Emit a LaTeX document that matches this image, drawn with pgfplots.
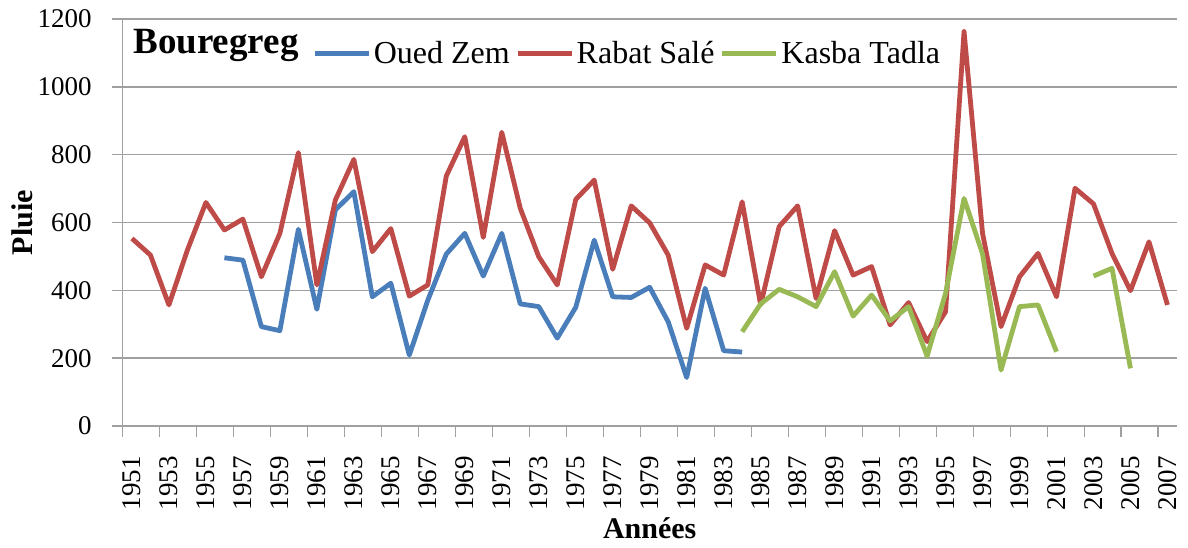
\documentclass[border=0pt]{standalone}
\usepackage{fontspec}
\setmainfont{Liberation Serif}
\usepackage{pgfplots}
\pgfplotsset{compat=1.18}
\usepackage{pgfplotstable}
\usetikzlibrary{calc}

\definecolor{cblue}{HTML}{4A7EBB}
\definecolor{cred}{HTML}{BE4B48}
\definecolor{cgreen}{HTML}{98B954}
\definecolor{gridc}{HTML}{A0A0A0}

\pgfplotstableread{
year val
1956 496
1957 489
1958 293
1959 281
1960 580
1961 344
1962 637
1963 691
1964 381
1965 421
1966 209
1967 371
1968 507
1969 568
1970 442
1971 568
1972 360
1973 352
1974 259
1975 350
1976 548
1977 381
1978 379
1979 409
1980 307
1981 143
1982 406
1983 222
1984 218
}\ouedzem

\pgfplotstableread{
year val
1951 553
1952 504
1953 357
1954 519
1955 659
1956 578
1957 610
1958 440
1959 568
1960 806
1961 416
1962 666
1963 786
1964 514
1965 582
1966 383
1967 416
1968 737
1969 853
1970 556
1971 866
1972 642
1973 499
1974 416
1975 668
1976 725
1977 462
1978 649
1979 599
1980 504
1981 288
1982 475
1983 445
1984 661
1985 357
1986 588
1987 649
1988 376
1989 576
1990 445
1991 470
1992 298
1993 364
1994 249
1995 337
1996 1163
1997 568
1998 293
1999 440
2000 509
2001 381
2002 701
2003 655
2004 509
2005 399
2006 543
2007 357
}\rabat

\pgfplotstableread{
year val
1984 278
1985 360
1986 403
1987 381
1988 352
1989 455
1990 324
1991 386
1992 310
1993 352
1994 206
1995 391
1996 671
1997 507
1998 165
1999 352
2000 357
2001 219
2002 nan
2003 442
2004 465
2005 170
}\kasba

\begin{document}
\begin{tikzpicture}
\begin{axis}[
  scale only axis,
  width=527pt, height=203.5pt,
  xmin=1950.5, xmax=2007.5,
  ymin=0, ymax=1200,
  axis x line*=bottom, axis y line*=left,
  axis line style={gridc, line width=0.75pt},
  ytick={0,200,...,1200},
  ymajorgrids,
  grid style={gridc, line width=0.75pt},
  xtick={1951,1953,...,2007},
  minor xtick={1950.5,1952.5,...,2006.6},
  major x tick style={draw=none},
  tick style={gridc, line width=0.75pt},
  tick align=outside,
  major tick length=5.5pt,
  minor tick length=5.3pt,
  /pgf/number format/.cd, 1000 sep={}, assume math mode=true,
  /pgfplots/.cd,
  tick label style={font=\fontsize{13.5}{14}\selectfont, black},
  xticklabel style={rotate=90, anchor=east, inner sep=0pt},
  yticklabel style={anchor=east, inner sep=0pt},
  xticklabel shift=9.5pt,
  yticklabel shift=9.85pt,
  xlabel={Années},
  ylabel={Pluie},
  label style={font=\bfseries\fontsize{15}{15}\selectfont},
  xlabel style={at={(rel axis cs:0.5,0)}, anchor=base, yshift=-56pt},
  ylabel style={at={(rel axis cs:0,0.5)}, anchor=base, yshift=44.85pt},
  legend columns=3,
  legend cell align=left,
  legend image code/.code={\draw[#1] (0pt,0pt) -- (27pt,0pt);},
  legend style={at={(rel axis cs:0.1796,0.915)}, anchor=west, draw=none, fill=none,
    inner sep=0pt, font=\fontsize{16}{16}\selectfont,
    nodes={inner xsep=1.3pt},
    /tikz/every even column/.append style={column sep=1.5pt}},
  unbounded coords=jump,
  every axis plot/.append style={line width=2.4pt, line join=round},
]
\addplot[cblue] table[x=year, y=val] {\ouedzem};
\addlegendentry{Oued Zem}
\addplot[cred] table[x=year, y=val] {\rabat};
\addlegendentry{Rabat Salé}
\addplot[cgreen] table[x=year, y=val] {\kasba};
\addlegendentry{Kasba Tadla}
\node[anchor=base west, inner sep=0pt, font=\bfseries\fontsize{18.5}{18.5}\selectfont, xshift=5.15pt, yshift=-17.2pt] at (rel axis cs:0,1) {Bouregreg};
\coordinate (sw) at (rel axis cs:0,0);
\coordinate (ne) at (rel axis cs:1,1);
\end{axis}
\pgfresetboundingbox
\path ($(sw)+(-61.35pt,-60.5pt)$) rectangle ($(ne)+(5.65pt,9.5pt)$);
\end{tikzpicture}
\end{document}
